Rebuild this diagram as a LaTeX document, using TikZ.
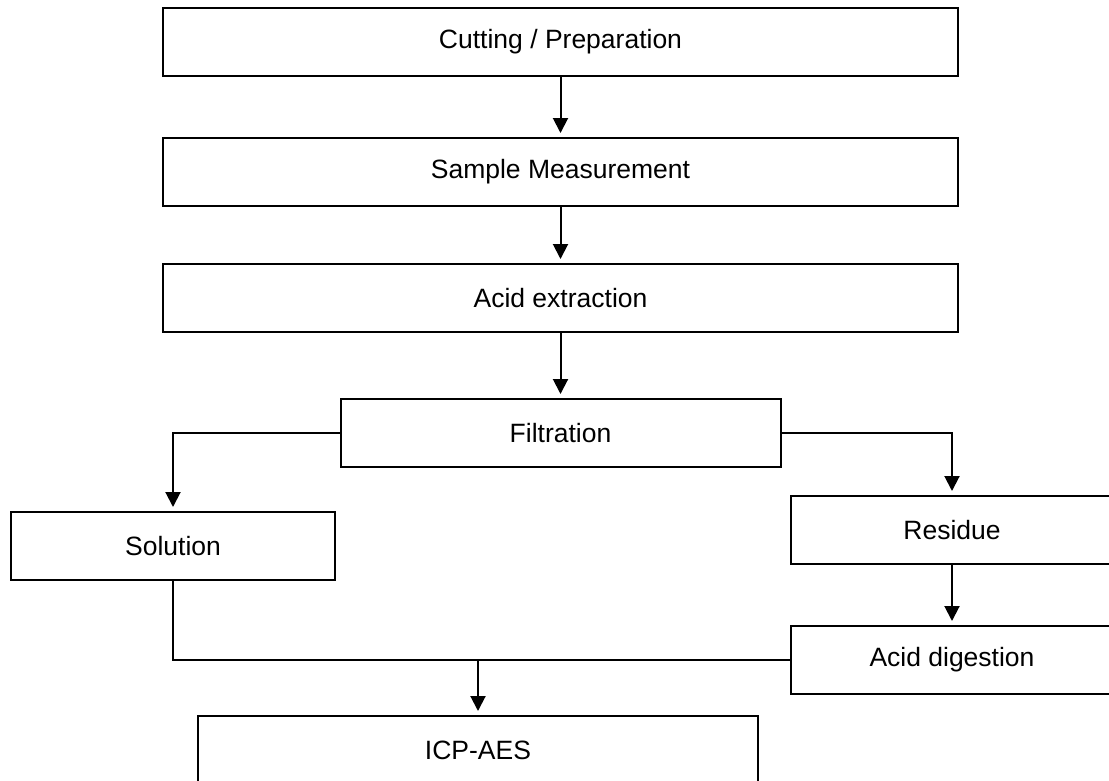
\documentclass[tikz,border=0pt]{standalone}
\usepackage{fontspec}
\setmainfont{Liberation Sans}
\usetikzlibrary{positioning,arrows.meta}

\begin{document}
\begin{tikzpicture}[x=1pt, y=-1pt,
    every node/.style={font=\fontsize{26.5}{30}\selectfont, align=center},
    stepbox/.style={draw, line width=2pt, minimum height=68pt, inner sep=0pt},
    flow/.style={-{Triangle[length=15pt,width=15pt]}, line width=2pt, shorten >=4pt}]
  \useasboundingbox (0,0) rectangle (1109,780);
  \clip (0,0) rectangle (1109,780);
  % main column
  \node[stepbox, minimum width=795pt] (cut) at (560.5,42) {Cutting / Preparation};
  \node[stepbox, minimum width=795pt, below=60pt of cut] (meas) {Sample Measurement};
  \node[stepbox, minimum width=795pt, below=56pt of meas] (extr) {Acid extraction};
  \node[stepbox, minimum width=440pt, below=65pt of extr] (filt) {Filtration};
  % branches
  \node[stepbox, minimum width=324pt] (sol) at (173,546) {Solution};
  \node[stepbox, minimum width=322pt] (res) at (952,530) {Residue};
  \node[stepbox, minimum width=322pt] (dig) at (952,660) {Acid digestion};
  \node[stepbox, minimum width=560pt] (icp) at (478,750) {ICP-AES};
  \draw[flow] (cut) -- (meas);
  \draw[flow] (meas) -- (extr);
  \draw[flow] (extr) -- (filt);
  \draw[flow] (filt.west) -| (sol);
  \draw[flow] (filt.east) -| (res);
  \draw[flow] (res) -- (dig);
  \draw[line width=2pt] (sol.south) |- (dig.west);
  \coordinate (join) at (icp.north |- dig.west);
  \draw[flow] (join) -- (icp);
\end{tikzpicture}
\end{document}
